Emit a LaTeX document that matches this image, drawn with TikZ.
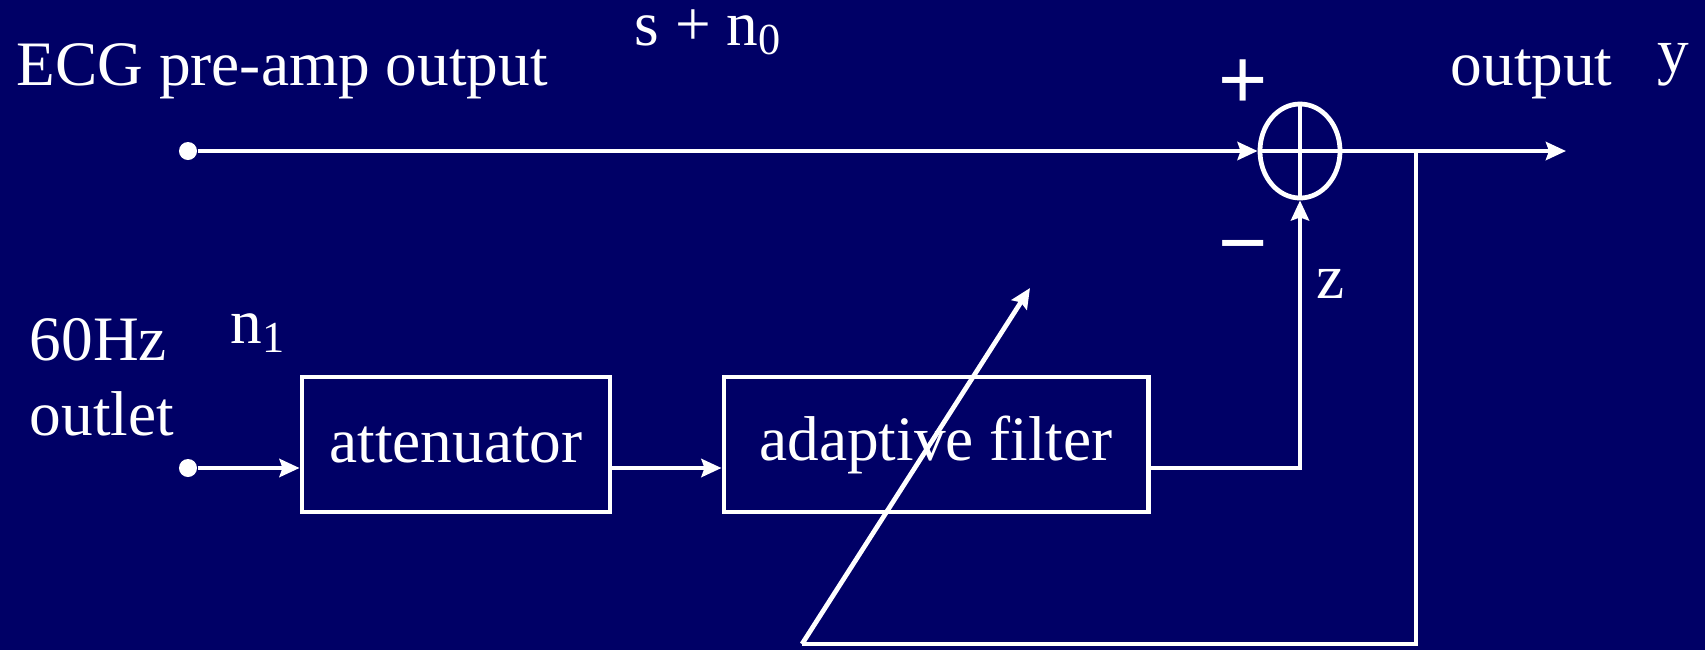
\documentclass[tikz,border=0pt]{standalone}
\usepackage{fontspec}
\setmainfont{Liberation Serif}
\newfontfamily\signfont{Liberation Sans}
\usetikzlibrary{shapes.geometric, arrows.meta, positioning}
\definecolor{slidenavy}{RGB}{0, 0, 102}
\tikzset{
  wire/.style={draw=white, line width=1.35pt},
  arrow/.style={wire, -{Stealth[length=0.2cm, width=0.18cm, inset=0.03cm]}},
  block/.style={rectangle, draw=white, line width=1.35pt, minimum height=1.35cm,
    text=white, font=\fontsize{18}{21}\selectfont},
  terminal/.style={circle, fill=white, inner sep=0pt, minimum size=0.18cm},
  summer/.style={ellipse, draw=white, line width=1.35pt, minimum width=0.8cm,
    minimum height=0.94cm, inner sep=0pt},
  txt/.style={text=white, inner sep=0pt, font=\fontsize{18}{21}\selectfont},
  sign/.style={text=white, inner sep=0pt, font=\signfont\fontsize{24}{26}\selectfont}
}
\begin{document}
\begin{tikzpicture}[x=0.01cm, y=0.01cm]
\fill[slidenavy] (0,0) rectangle (1705,650);
\useasboundingbox (0,0) rectangle (1705,650);

% signal path
\node (ecgin)  [terminal] at (188,499) {};
\node (sum)    [summer]   at (1300,499) {};
\draw[wire] (sum.north) -- (sum.south) (sum.west) -- (sum.east);
\coordinate (out)      at (1566,499);
\coordinate (tap)      at (1416,499);
\coordinate (fbcorner) at (1416,6);
\coordinate (fbstart)  at (802,6);
\coordinate (adjtip)   at (1030,362);

% reference path
\node (mainsin) [terminal] at (188,182) {};
\node (atten)  [block, minimum width=3.08cm] at (456,205.5) {attenuator};
\node (filt)   [block, minimum width=4.24cm] at (936,205.5) {adaptive filter};

% labels
\node (ecglbl) [txt, anchor=base west] at (16,565)  {ECG pre-amp output};
\node (noisy)  [txt, anchor=base west] at (634,605) {s + n\textsubscript{0}};
\node (plus)   [sign] at (1243,566) {+};
\node (minus)  [sign] at (1243,394) {−};
\node (outlbl) [txt, anchor=base west] at (1450,565) {output};
\node (ylbl)   [txt, anchor=base] at (1673,578) {y};
\node (zlbl)   [txt, anchor=base] at (1331,352) {z};
\node (hzlbl)  [txt, anchor=base west] at (29,290) {60Hz};
\node (outlet) [txt, anchor=base west] at (29,215) {outlet};
\node (nlbl)   [txt, anchor=base west] at (230,307) {n\textsubscript{1}};

\draw[arrow] (ecgin) -- (sum.west);
\draw[arrow] (sum.east) -- (out);
\draw[arrow] (mainsin) -- (mainsin -| atten.west);
\draw[arrow] (atten.east |- mainsin) -- (filt.west |- mainsin);
\draw[arrow] (filt.east |- mainsin) -| (sum.south);
\draw[wire] (tap) -- (fbcorner) -- (fbstart);
\draw[arrow] (fbstart) -- (adjtip);
\end{tikzpicture}
\end{document}
